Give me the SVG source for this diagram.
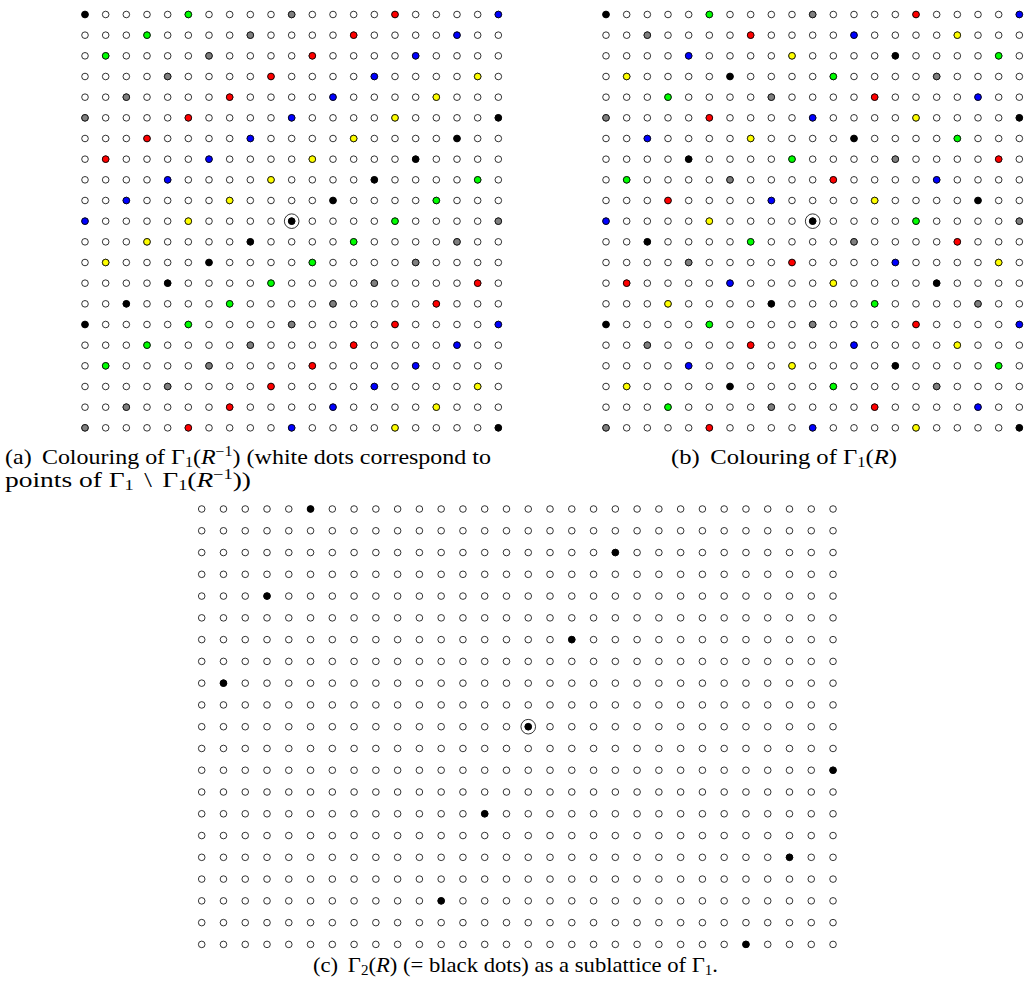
<svg xmlns="http://www.w3.org/2000/svg" xmlns:xlink="http://www.w3.org/1999/xlink" width="1027" height="988" viewBox="0 0 1027 988">
<style>
circle{stroke:#000;stroke-width:0.8}
.w{fill:#fff}
.k0{fill:#000}.k1{fill:#00ff00}.k2{fill:#808080}.k3{fill:#ff0000}.k4{fill:#0000ff}.k5{fill:#ffff00}
.ring{fill:none;stroke:#000;stroke-width:0.8}
.cap{font-family:"Liberation Serif","Times New Roman",serif;font-size:21px;fill:#000}
.it{font-style:italic}
</style>
<defs>
<g id="rowA">
<circle class="w" r="3.3" cx="0" cy="0"/><circle class="w" r="3.3" cx="20.67" cy="0"/><circle class="w" r="3.3" cx="41.33" cy="0"/><circle class="w" r="3.3" cx="62" cy="0"/><circle class="w" r="3.3" cx="82.67" cy="0"/><circle class="w" r="3.3" cx="103.33" cy="0"/><circle class="w" r="3.3" cx="124" cy="0"/><circle class="w" r="3.3" cx="144.67" cy="0"/><circle class="w" r="3.3" cx="165.33" cy="0"/><circle class="w" r="3.3" cx="186" cy="0"/><circle class="w" r="3.3" cx="206.67" cy="0"/><circle class="w" r="3.3" cx="227.33" cy="0"/><circle class="w" r="3.3" cx="248" cy="0"/><circle class="w" r="3.3" cx="268.67" cy="0"/><circle class="w" r="3.3" cx="289.33" cy="0"/><circle class="w" r="3.3" cx="310" cy="0"/><circle class="w" r="3.3" cx="330.67" cy="0"/><circle class="w" r="3.3" cx="351.33" cy="0"/><circle class="w" r="3.3" cx="372" cy="0"/><circle class="w" r="3.3" cx="392.67" cy="0"/><circle class="w" r="3.3" cx="413.33" cy="0"/>
</g>
<g id="gridA">
<use xlink:href="#rowA" y="0"/><use xlink:href="#rowA" y="20.67"/><use xlink:href="#rowA" y="41.33"/><use xlink:href="#rowA" y="62"/><use xlink:href="#rowA" y="82.67"/><use xlink:href="#rowA" y="103.33"/><use xlink:href="#rowA" y="124"/><use xlink:href="#rowA" y="144.67"/><use xlink:href="#rowA" y="165.33"/><use xlink:href="#rowA" y="186"/><use xlink:href="#rowA" y="206.67"/><use xlink:href="#rowA" y="227.33"/><use xlink:href="#rowA" y="248"/><use xlink:href="#rowA" y="268.67"/><use xlink:href="#rowA" y="289.33"/><use xlink:href="#rowA" y="310"/><use xlink:href="#rowA" y="330.67"/><use xlink:href="#rowA" y="351.33"/><use xlink:href="#rowA" y="372"/><use xlink:href="#rowA" y="392.67"/><use xlink:href="#rowA" y="413.33"/>
</g>
<g id="rowC">
<circle class="w" r="3.3" cx="0" cy="0"/><circle class="w" r="3.3" cx="21.77" cy="0"/><circle class="w" r="3.3" cx="43.54" cy="0"/><circle class="w" r="3.3" cx="65.31" cy="0"/><circle class="w" r="3.3" cx="87.08" cy="0"/><circle class="w" r="3.3" cx="108.85" cy="0"/><circle class="w" r="3.3" cx="130.62" cy="0"/><circle class="w" r="3.3" cx="152.39" cy="0"/><circle class="w" r="3.3" cx="174.16" cy="0"/><circle class="w" r="3.3" cx="195.93" cy="0"/><circle class="w" r="3.3" cx="217.7" cy="0"/><circle class="w" r="3.3" cx="239.47" cy="0"/><circle class="w" r="3.3" cx="261.24" cy="0"/><circle class="w" r="3.3" cx="283.01" cy="0"/><circle class="w" r="3.3" cx="304.78" cy="0"/><circle class="w" r="3.3" cx="326.55" cy="0"/><circle class="w" r="3.3" cx="348.32" cy="0"/><circle class="w" r="3.3" cx="370.09" cy="0"/><circle class="w" r="3.3" cx="391.86" cy="0"/><circle class="w" r="3.3" cx="413.63" cy="0"/><circle class="w" r="3.3" cx="435.4" cy="0"/><circle class="w" r="3.3" cx="457.17" cy="0"/><circle class="w" r="3.3" cx="478.94" cy="0"/><circle class="w" r="3.3" cx="500.71" cy="0"/><circle class="w" r="3.3" cx="522.48" cy="0"/><circle class="w" r="3.3" cx="544.25" cy="0"/><circle class="w" r="3.3" cx="566.02" cy="0"/><circle class="w" r="3.3" cx="587.79" cy="0"/><circle class="w" r="3.3" cx="609.56" cy="0"/><circle class="w" r="3.3" cx="631.33" cy="0"/>
</g>
<g id="a05">
<circle class="k0" r="3.3" cx="0" cy="0"/><circle class="k1" r="3.3" cx="103.33" cy="0"/><circle class="k2" r="3.3" cx="206.67" cy="0"/><circle class="k3" r="3.3" cx="310" cy="0"/><circle class="k4" r="3.3" cx="413.33" cy="0"/>
<circle class="k1" r="3.3" cx="62" cy="20.67"/><circle class="k2" r="3.3" cx="165.33" cy="20.67"/><circle class="k3" r="3.3" cx="268.67" cy="20.67"/><circle class="k4" r="3.3" cx="372" cy="20.67"/>
<circle class="k1" r="3.3" cx="20.67" cy="41.33"/><circle class="k2" r="3.3" cx="124" cy="41.33"/><circle class="k3" r="3.3" cx="227.33" cy="41.33"/><circle class="k4" r="3.3" cx="330.67" cy="41.33"/>
<circle class="k2" r="3.3" cx="82.67" cy="62"/><circle class="k3" r="3.3" cx="186" cy="62"/><circle class="k4" r="3.3" cx="289.33" cy="62"/><circle class="k5" r="3.3" cx="392.67" cy="62"/>
<circle class="k2" r="3.3" cx="41.33" cy="82.67"/><circle class="k3" r="3.3" cx="144.67" cy="82.67"/><circle class="k4" r="3.3" cx="248" cy="82.67"/><circle class="k5" r="3.3" cx="351.33" cy="82.67"/>
<circle class="k2" r="3.3" cx="0" cy="103.33"/><circle class="k3" r="3.3" cx="103.33" cy="103.33"/><circle class="k4" r="3.3" cx="206.67" cy="103.33"/><circle class="k5" r="3.3" cx="310" cy="103.33"/><circle class="k0" r="3.3" cx="413.33" cy="103.33"/>
</g>
<g id="b05">
<circle class="k0" r="3.3" cx="0" cy="0"/><circle class="k1" r="3.3" cx="103.33" cy="0"/><circle class="k2" r="3.3" cx="206.67" cy="0"/><circle class="k3" r="3.3" cx="310" cy="0"/><circle class="k4" r="3.3" cx="413.33" cy="0"/>
<circle class="k2" r="3.3" cx="41.33" cy="20.67"/><circle class="k3" r="3.3" cx="144.67" cy="20.67"/><circle class="k4" r="3.3" cx="248" cy="20.67"/><circle class="k5" r="3.3" cx="351.33" cy="20.67"/>
<circle class="k4" r="3.3" cx="82.67" cy="41.33"/><circle class="k5" r="3.3" cx="186" cy="41.33"/><circle class="k0" r="3.3" cx="289.33" cy="41.33"/><circle class="k1" r="3.3" cx="392.67" cy="41.33"/>
<circle class="k5" r="3.3" cx="20.67" cy="62"/><circle class="k0" r="3.3" cx="124" cy="62"/><circle class="k1" r="3.3" cx="227.33" cy="62"/><circle class="k2" r="3.3" cx="330.67" cy="62"/>
<circle class="k1" r="3.3" cx="62" cy="82.67"/><circle class="k2" r="3.3" cx="165.33" cy="82.67"/><circle class="k3" r="3.3" cx="268.67" cy="82.67"/><circle class="k4" r="3.3" cx="372" cy="82.67"/>
<circle class="k2" r="3.3" cx="0" cy="103.33"/><circle class="k3" r="3.3" cx="103.33" cy="103.33"/><circle class="k4" r="3.3" cx="206.67" cy="103.33"/><circle class="k5" r="3.3" cx="310" cy="103.33"/><circle class="k0" r="3.3" cx="413.33" cy="103.33"/>
</g>
</defs>

<g id="panel-a" transform="translate(85,14.5)">
<use xlink:href="#gridA"/>
<use xlink:href="#a05"/>
<use xlink:href="#a05" y="310"/>
<circle class="k3" r="3.3" cx="62" cy="124"/><circle class="k4" r="3.3" cx="165.33" cy="124"/><circle class="k5" r="3.3" cx="268.67" cy="124"/><circle class="k0" r="3.3" cx="372" cy="124"/>
<circle class="k3" r="3.3" cx="20.67" cy="144.67"/><circle class="k4" r="3.3" cx="124" cy="144.67"/><circle class="k5" r="3.3" cx="227.33" cy="144.67"/><circle class="k0" r="3.3" cx="330.67" cy="144.67"/>
<circle class="k4" r="3.3" cx="82.67" cy="165.33"/><circle class="k5" r="3.3" cx="186" cy="165.33"/><circle class="k0" r="3.3" cx="289.33" cy="165.33"/><circle class="k1" r="3.3" cx="392.67" cy="165.33"/>
<circle class="k4" r="3.3" cx="41.33" cy="186"/><circle class="k5" r="3.3" cx="144.67" cy="186"/><circle class="k0" r="3.3" cx="248" cy="186"/><circle class="k1" r="3.3" cx="351.33" cy="186"/>
<circle class="k4" r="3.3" cx="0" cy="206.67"/><circle class="k5" r="3.3" cx="103.33" cy="206.67"/><circle class="k1" r="3.3" cx="310" cy="206.67"/><circle class="k2" r="3.3" cx="413.33" cy="206.67"/>
<circle class="k5" r="3.3" cx="62" cy="227.33"/><circle class="k0" r="3.3" cx="165.33" cy="227.33"/><circle class="k1" r="3.3" cx="268.67" cy="227.33"/><circle class="k2" r="3.3" cx="372" cy="227.33"/>
<circle class="k5" r="3.3" cx="20.67" cy="248"/><circle class="k0" r="3.3" cx="124" cy="248"/><circle class="k1" r="3.3" cx="227.33" cy="248"/><circle class="k2" r="3.3" cx="330.67" cy="248"/>
<circle class="k0" r="3.3" cx="82.67" cy="268.67"/><circle class="k1" r="3.3" cx="186" cy="268.67"/><circle class="k2" r="3.3" cx="289.33" cy="268.67"/><circle class="k3" r="3.3" cx="392.67" cy="268.67"/>
<circle class="k0" r="3.3" cx="41.33" cy="289.33"/><circle class="k1" r="3.3" cx="144.67" cy="289.33"/><circle class="k2" r="3.3" cx="248" cy="289.33"/><circle class="k3" r="3.3" cx="351.33" cy="289.33"/>
<circle class="k0" r="3.3" cx="206.67" cy="206.67"/><circle class="ring" r="7.3" cx="206.67" cy="206.67"/>
</g>

<g id="panel-b" transform="translate(606,14.5)">
<use xlink:href="#gridA"/>
<use xlink:href="#b05"/>
<use xlink:href="#b05" y="310"/>
<circle class="k4" r="3.3" cx="41.33" cy="124"/><circle class="k5" r="3.3" cx="144.67" cy="124"/><circle class="k0" r="3.3" cx="248" cy="124"/><circle class="k1" r="3.3" cx="351.33" cy="124"/>
<circle class="k0" r="3.3" cx="82.67" cy="144.67"/><circle class="k1" r="3.3" cx="186" cy="144.67"/><circle class="k2" r="3.3" cx="289.33" cy="144.67"/><circle class="k3" r="3.3" cx="392.67" cy="144.67"/>
<circle class="k1" r="3.3" cx="20.67" cy="165.33"/><circle class="k2" r="3.3" cx="124" cy="165.33"/><circle class="k3" r="3.3" cx="227.33" cy="165.33"/><circle class="k4" r="3.3" cx="330.67" cy="165.33"/>
<circle class="k3" r="3.3" cx="62" cy="186"/><circle class="k4" r="3.3" cx="165.33" cy="186"/><circle class="k5" r="3.3" cx="268.67" cy="186"/><circle class="k0" r="3.3" cx="372" cy="186"/>
<circle class="k4" r="3.3" cx="0" cy="206.67"/><circle class="k5" r="3.3" cx="103.33" cy="206.67"/><circle class="k1" r="3.3" cx="310" cy="206.67"/><circle class="k2" r="3.3" cx="413.33" cy="206.67"/>
<circle class="k0" r="3.3" cx="41.33" cy="227.33"/><circle class="k1" r="3.3" cx="144.67" cy="227.33"/><circle class="k2" r="3.3" cx="248" cy="227.33"/><circle class="k3" r="3.3" cx="351.33" cy="227.33"/>
<circle class="k2" r="3.3" cx="82.67" cy="248"/><circle class="k3" r="3.3" cx="186" cy="248"/><circle class="k4" r="3.3" cx="289.33" cy="248"/><circle class="k5" r="3.3" cx="392.67" cy="248"/>
<circle class="k3" r="3.3" cx="20.67" cy="268.67"/><circle class="k4" r="3.3" cx="124" cy="268.67"/><circle class="k5" r="3.3" cx="227.33" cy="268.67"/><circle class="k0" r="3.3" cx="330.67" cy="268.67"/>
<circle class="k5" r="3.3" cx="62" cy="289.33"/><circle class="k0" r="3.3" cx="165.33" cy="289.33"/><circle class="k1" r="3.3" cx="268.67" cy="289.33"/><circle class="k2" r="3.3" cx="372" cy="289.33"/>
<circle class="k0" r="3.3" cx="206.67" cy="206.67"/><circle class="ring" r="7.3" cx="206.67" cy="206.67"/>
</g>

<g id="panel-c" transform="translate(201.7,509)">
<use xlink:href="#rowC" y="0"/><use xlink:href="#rowC" y="21.77"/><use xlink:href="#rowC" y="43.54"/><use xlink:href="#rowC" y="65.31"/><use xlink:href="#rowC" y="87.08"/><use xlink:href="#rowC" y="108.85"/><use xlink:href="#rowC" y="130.62"/><use xlink:href="#rowC" y="152.39"/><use xlink:href="#rowC" y="174.16"/><use xlink:href="#rowC" y="195.93"/><use xlink:href="#rowC" y="217.7"/><use xlink:href="#rowC" y="239.47"/><use xlink:href="#rowC" y="261.24"/><use xlink:href="#rowC" y="283.01"/><use xlink:href="#rowC" y="304.78"/><use xlink:href="#rowC" y="326.55"/><use xlink:href="#rowC" y="348.32"/><use xlink:href="#rowC" y="370.09"/><use xlink:href="#rowC" y="391.86"/><use xlink:href="#rowC" y="413.63"/><use xlink:href="#rowC" y="435.4"/>
<circle class="k0" r="3.3" cx="108.85" cy="0"/>
<circle class="k0" r="3.3" cx="413.63" cy="43.54"/>
<circle class="k0" r="3.3" cx="65.31" cy="87.08"/>
<circle class="k0" r="3.3" cx="370.09" cy="130.62"/>
<circle class="k0" r="3.3" cx="21.77" cy="174.16"/>
<circle class="k0" r="3.3" cx="326.55" cy="217.7"/><circle class="ring" r="7.3" cx="326.55" cy="217.7"/>
<circle class="k0" r="3.3" cx="631.33" cy="261.24"/>
<circle class="k0" r="3.3" cx="283.01" cy="304.78"/>
<circle class="k0" r="3.3" cx="587.79" cy="348.32"/>
<circle class="k0" r="3.3" cx="239.47" cy="391.86"/>
<circle class="k0" r="3.3" cx="544.25" cy="435.4"/>
</g>

<g id="captions">
<text class="cap" x="5" y="464" textLength="486" lengthAdjust="spacingAndGlyphs">(a)<tspan dx="9">Colouring of Γ</tspan><tspan font-size="14" dy="3">1</tspan><tspan dy="-3">(</tspan><tspan class="it">R</tspan><tspan font-size="14" dy="-8">−1</tspan><tspan dy="8">) (white dots correspond to</tspan></text>
<text class="cap" x="5" y="487" textLength="246" lengthAdjust="spacingAndGlyphs">points of Γ<tspan font-size="14" dy="3">1</tspan><tspan dy="-3" dx="8">\</tspan><tspan dx="8">Γ</tspan><tspan font-size="14" dy="3">1</tspan><tspan dy="-3">(</tspan><tspan class="it">R</tspan><tspan font-size="14" dy="-8">−1</tspan><tspan dy="8">))</tspan></text>
<text class="cap" x="671" y="464" textLength="226" lengthAdjust="spacingAndGlyphs">(b)<tspan dx="9">Colouring of Γ</tspan><tspan font-size="14" dy="3">1</tspan><tspan dy="-3">(</tspan><tspan class="it">R</tspan>)</text>
<text class="cap" x="313" y="972" textLength="405" lengthAdjust="spacingAndGlyphs">(c)<tspan dx="9">Γ</tspan><tspan font-size="14" dy="3">2</tspan><tspan dy="-3">(</tspan><tspan class="it">R</tspan>) (= black dots) as a sublattice of Γ<tspan font-size="14" dy="3">1</tspan><tspan dy="-3">.</tspan></text>
</g>
</svg>
